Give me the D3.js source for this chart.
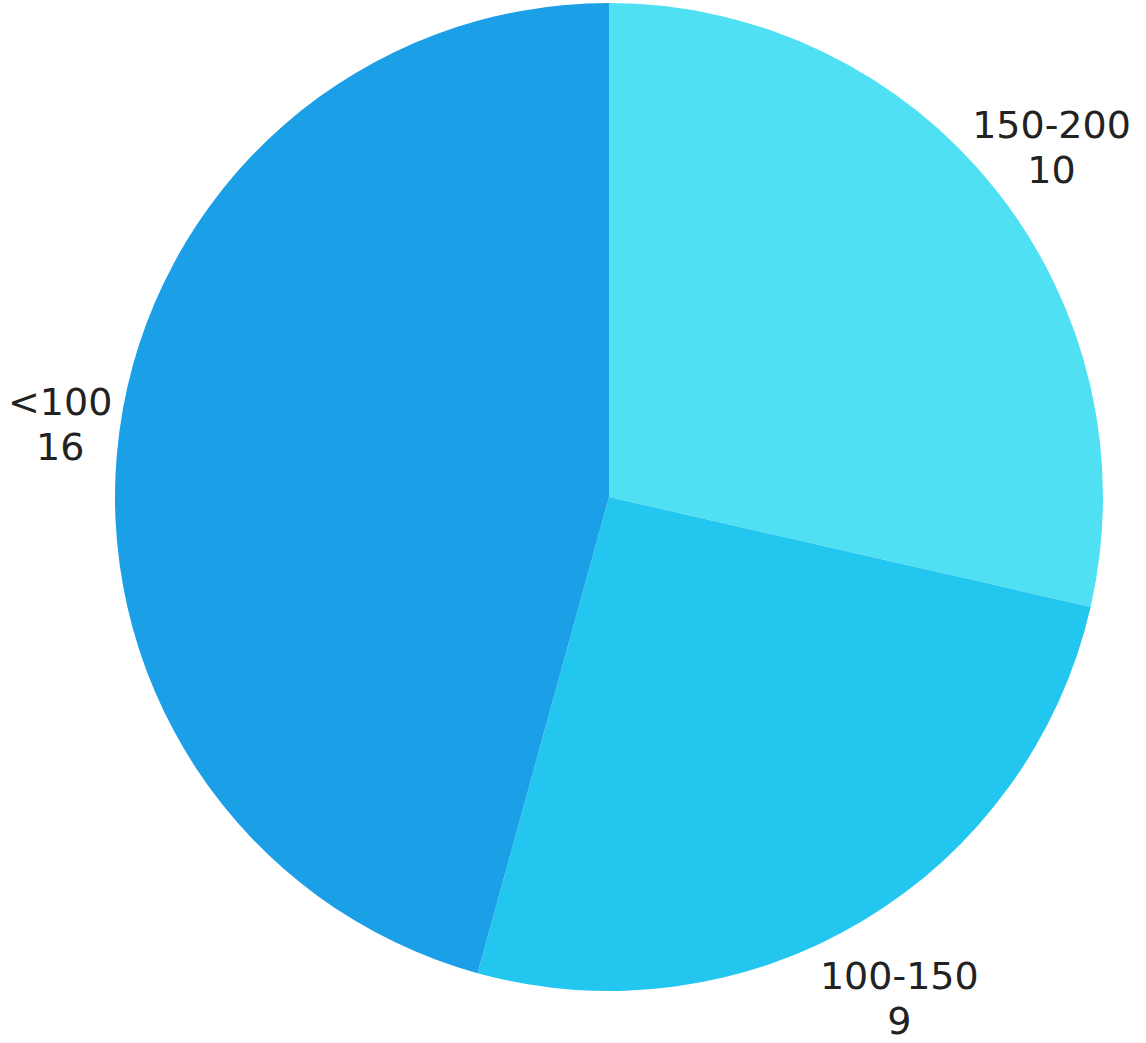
<!DOCTYPE html>
<html><head><meta charset="utf-8">
<script src="https://cdn.jsdelivr.net/npm/d3@7"></script>
<style>html,body{margin:0;padding:0;background:#fff;}svg{display:block;}</style>
</head><body>
<svg id="chart" width="1146" height="1043"></svg>
<script>
const categories = ["150-200", "100-150", "<100"];
const values = [10, 9, 16];
const colors = ["#4fe0f4", "#22c6ef", "#1b9fe7"];

const W = 1146, H = 1043;
const svg = d3.select("#chart");
const cx = 609, cy = 497, radius = 494, labelRadius = 566;
const g = svg.append("g").attr("transform", `translate(${cx},${cy})`);

const data = categories.map((c, i) => ({ cat: c, value: values[i], color: colors[i] }));
const pie = d3.pie().sort(null).value(d => d.value);
const arcs = pie(data);
const arc = d3.arc().innerRadius(0).outerRadius(radius);
const labelArc = d3.arc().innerRadius(labelRadius).outerRadius(labelRadius);

g.selectAll("path").data(arcs).enter().append("path")
  .attr("d", arc).attr("fill", d => d.data.color);

const lab = g.selectAll("text").data(arcs).enter().append("text")
  .attr("text-anchor", "middle")
  .style("font-family", "DejaVu Sans, sans-serif")
  .style("font-size", "38px")
  .attr("fill", "#222");
lab.append("tspan").attr("x", 0).attr("y", -8).text(d => d.data.cat);
lab.append("tspan").attr("x", 0).attr("y", 37).text(d => d.data.value);

lab.each(function(d) {
  const c = labelArc.centroid(d);
  const extra = c[1] > radius * 0.5 ? 14 : 2;
  let x = c[0], y = c[1] + extra;
  const bb = this.getBBox();
  const margin = 8;
  const left = cx + x + bb.x, right = cx + x + bb.x + bb.width;
  if (left < margin) x += margin - left;
  if (right > W - margin) x -= right - (W - margin);
  d3.select(this).attr("transform", `translate(${x},${y})`);
});
</script>
</body></html>
